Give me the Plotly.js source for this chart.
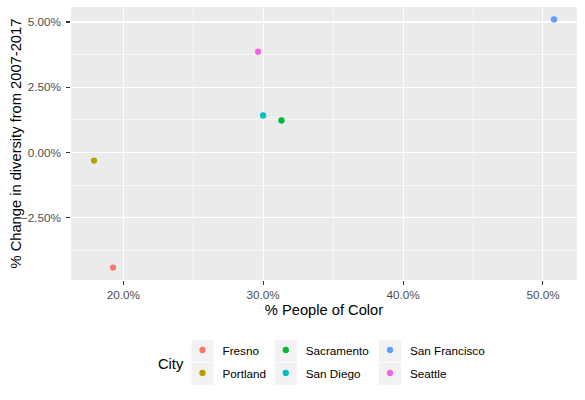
<!DOCTYPE html>
<html><head><meta charset="utf-8">
<script src="https://cdn.plot.ly/plotly-3.0.1.min.js"></script>
<style>html,body{margin:0;padding:0;background:#fff}</style>
</head><body><div id="chart" style="width:585px;height:400px"></div>
<script>
const cities = ["Fresno","Portland","Sacramento","San Diego","San Francisco","Seattle"];
const pctPeopleOfColor = [0.1927, 0.1791, 0.3131, 0.3000, 0.5079, 0.2964];
const pctChangeDiversity = [-0.0441, -0.0031, 0.0123, 0.0142, 0.0510, 0.0386];
const cityColors = ["#F8766D","#B79F00","#00BA38","#00BFC4","#619CFF","#F564E3"];
const xTicks = [0.2, 0.3, 0.4, 0.5];
const yTicks = [-0.025, 0, 0.025, 0.05];
const legendOf = ["legend","legend","legend2","legend2","legend3","legend3"];

const W = 585, H = 400, ML = 71, MR = 8, MT = 7, MB = 120;
const PW = W - ML - MR, PH = H - MT - MB;
const px2x = p => (p - ML) / PW;
const px2y = p => (H - MB - p) / PH;

function expand(arr) {
  const lo = Math.min(...arr), hi = Math.max(...arr), d = (hi - lo) * 0.05;
  return [lo - d, hi + d];
}

const traces = cities.map((c, i) => ({
  type: "scatter", mode: "markers",
  x: [pctPeopleOfColor[i]], y: [pctChangeDiversity[i]],
  name: c, legend: legendOf[i], legendgroup: c,
  marker: {color: cityColors[i], size: 6.3, line: {width: 0}},
  hoverinfo: "skip"
}));

const legBase = {
  xref: "paper", yref: "paper", xanchor: "left", yanchor: "top",
  orientation: "v", bgcolor: "rgba(0,0,0,0)", borderwidth: 0,
  font: {size: 11.7, color: "#000000", family: "Liberation Sans, Arial, sans-serif"},
  tracegroupgap: 4
};
const legTop = px2y(335.5);

const keyCx = [202.5, 285.8, 390];
const keyCy = [351, 373.8];
const shapes = [];
keyCx.forEach(cx => keyCy.forEach(cy => {
  shapes.push({type: "rect", xref: "paper", yref: "paper", layer: "below",
    x0: px2x(cx - 11), x1: px2x(cx + 11), y0: px2y(cy + 11), y1: px2y(cy - 11),
    fillcolor: "#F2F2F2", line: {width: 0}});
}));

const axisCommon = {
  ticks: "outside", ticklen: 3.7, tickwidth: 1.07, tickcolor: "#333333",
  tickfont: {size: 11.7, color: "#4D4D4D"},
  showgrid: true, gridcolor: "#FFFFFF", gridwidth: 1.07,
  zeroline: false, showline: false, automargin: false,
  tickmode: "array"
};

const layout = {
  width: W, height: H,
  margin: {l: ML, r: MR, t: MT, b: MB, pad: 0, autoexpand: false},
  paper_bgcolor: "#FFFFFF", plot_bgcolor: "#EBEBEB",
  font: {family: "Liberation Sans, Arial, sans-serif", color: "#000000"},
  showlegend: true,
  xaxis: Object.assign({}, axisCommon, {
    range: expand(pctPeopleOfColor), tickvals: xTicks, tickformat: ".1%",
    minor: {tick0: 0.15, dtick: 0.05, showgrid: true, gridcolor: "#FFFFFF", gridwidth: 0.53, ticks: ""},
    title: {text: "% People of Color", font: {size: 14.7, color: "#000000"}, standoff: 4}
  }),
  yaxis: Object.assign({}, axisCommon, {
    range: expand(pctChangeDiversity), tickvals: yTicks, tickformat: ".2%",
    ticklabelstandoff: 3,
    minor: {tick0: 0, dtick: 0.0125, showgrid: true, gridcolor: "#FFFFFF", gridwidth: 0.53, ticks: ""}
  }),
  legend: Object.assign({}, legBase, {x: px2x(182.5), y: legTop}),
  legend2: Object.assign({}, legBase, {x: px2x(265.8), y: legTop}),
  legend3: Object.assign({}, legBase, {x: px2x(370), y: legTop}),
  shapes: shapes,
  annotations: [{
    text: "City", xref: "paper", yref: "paper", x: px2x(171), y: px2y(364),
    xanchor: "center", yanchor: "middle", showarrow: false,
    font: {size: 14.7, color: "#000000"}
  }, {
    text: "% Change in diversity from 2007-2017", xref: "paper", yref: "paper",
    x: px2x(15), y: 0.5, textangle: -90, xanchor: "center", yanchor: "middle", showarrow: false,
    font: {size: 14.7, color: "#000000"}
  }]
};

Plotly.newPlot("chart", traces, layout, {displayModeBar: false, staticPlot: true});
</script>
</body></html>
